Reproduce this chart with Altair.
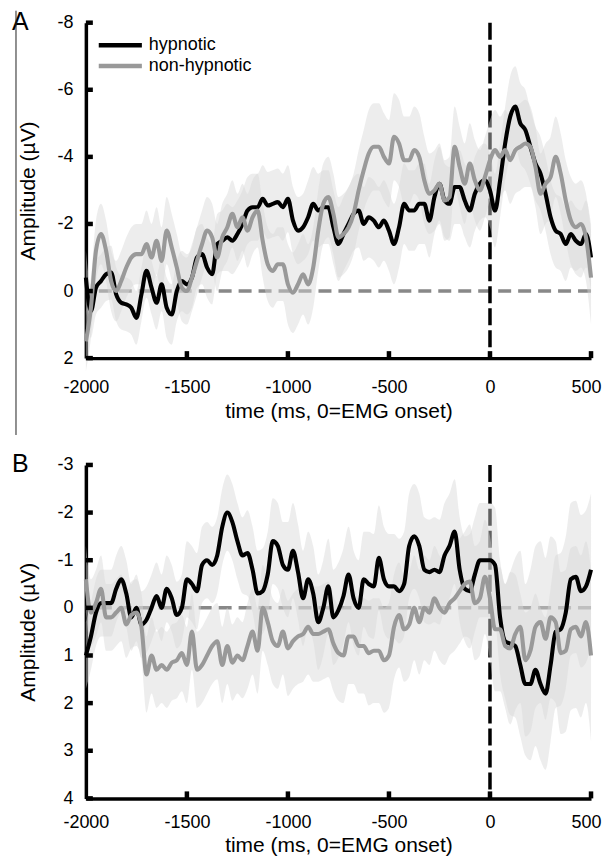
import altair as alt
import pandas as pd

# ---------------- data ----------------
time_ms = list(range(-2000, 501, 25))
x_ticks = [-2000, -1500, -1000, -500, 0, 500]
a_y_ticks = [-8, -6, -4, -2, 0, 2]
b_y_ticks = [-3, -2, -1, 0, 1, 2, 3, 4]
series_names = ["hypnotic", "non-hypnotic"]

a_hyp = [
    -0.4, 0.6, -0.1, -0.3, -0.5, -0.55, 0.1, 0.35, 0.4, 0.5,
    0.8, 0.1, -0.6, -0.1, 0.35, -0.2, 0.5, 0.7, 0.0, -0.3,
    -0.2, -0.4, -1.0, -1.1, -0.7, -0.5, -1.4, -1.5, -1.6, -1.5,
    -1.7, -2.0, -2.4, -2.5, -2.5, -2.75, -2.55, -2.6, -2.65, -2.5,
    -2.75, -2.1, -1.8, -1.9, -2.2, -2.6, -2.4, -2.5, -2.5, -1.9,
    -1.4, -1.7, -2.0, -2.3, -2.4, -2.0, -2.2, -2.1, -1.9, -2.1,
    -1.8, -1.4, -1.9, -2.6, -2.4, -2.4, -2.6, -2.6, -2.1, -2.8,
    -3.2, -2.7, -2.6, -3.1, -3.1, -2.7, -2.4, -2.9, -3.2, -3.3,
    -3.0, -2.4, -3.3, -4.4, -5.2, -5.5, -5.0, -4.8, -4.3, -3.8,
    -3.5, -2.9, -2.2, -1.8, -1.7, -1.4, -1.7, -1.5, -1.4, -1.7,
    -1.0,
]
a_non = [
    1.5, 0.5, -1.2, -1.7, -1.2, -0.3, 0.0, -0.3, -0.7, -1.0,
    -1.1, -1.1, -1.4, -1.0, -1.5, -0.9, -1.8, -1.3, -0.7, -0.1,
    0.0, -0.4, -0.9, -1.4, -1.8, -1.6, -1.0, -1.6, -1.9, -2.3,
    -1.9, -2.2, -1.8, -2.2, -2.4, -1.5, -0.8, -0.6, -0.8, -0.8,
    -0.2, 0.05, -0.2, -0.5, -0.2, -0.7, -1.8, -2.6, -2.8, -2.3,
    -1.6, -1.7, -1.9, -2.3, -3.0, -3.6, -4.1, -4.3, -4.3, -4.0,
    -3.8, -4.6, -4.4, -3.9, -3.9, -4.2, -4.0, -3.3, -2.9, -3.0,
    -3.2, -2.7, -2.8, -4.3, -3.7, -3.2, -3.8, -3.3, -3.0, -3.4,
    -3.9, -4.2, -4.0, -4.2, -3.9, -4.2, -4.3, -4.4, -4.3, -3.7,
    -2.9, -3.2, -3.4, -4.0, -3.5, -2.7, -2.1, -1.9, -2.0, -1.6,
    -0.4,
]
b_hyp = [
    1.0, 0.6, 0.1, -0.1, -0.1, -0.1, -0.4, -0.6, -0.3, 0.2,
    0.0, 0.35, 0.25, 0.0, -0.25, 0.0, -0.4, -0.2, 0.15, 0.0,
    -0.6, -0.5, -0.35, -0.9, -1.0, -0.9, -1.1, -1.7, -2.0, -1.8,
    -1.4, -1.1, -1.15, -0.8, -0.3, -0.35, -0.7, -1.4, -1.3, -0.9,
    -0.8, -1.2, -0.75, -0.2, -0.6, -0.3, 0.3, 0.0, -0.45, 0.2,
    0.05, -0.25, -0.7, -0.2, 0.0, -0.6, -0.5, -0.45, -1.05, -0.6,
    -0.45, -0.45, -0.35, -0.5, -1.3, -1.5, -1.3, -0.8, -0.75, -0.8,
    -0.75, -1.1, -1.3, -1.6, -0.8, -0.4, -0.35, -0.7, -1.0, -1.0,
    -1.0, -0.9, 0.2, 0.7, 0.75, 0.8, 1.2, 1.6, 1.6, 1.3,
    1.6, 1.8, 1.2, 0.5, 0.45, 0.1, -0.6, -0.65, -0.35, -0.45,
    -0.8,
]
b_non = [
    -0.6, 0.1, -0.1, -0.4, 0.2, 0.2, 0.1, 0.0, 0.35, 0.15,
    0.1, 0.4, 1.4, 1.0, 1.3, 1.2, 1.3, 1.15, 1.1, 0.95,
    1.2, 0.5, 1.3, 1.2, 1.0, 0.8, 0.7, 1.2, 0.8, 1.15,
    1.0, 1.1, 0.8, 0.5, 0.9, 0.0, 0.3, 0.7, 0.8, 0.5,
    0.85, 0.7, 0.6, 0.55, 0.4, 0.55, 0.55, 0.5, 0.45, 0.75,
    0.95, 1.0, 0.6, 0.6, 0.8, 0.8, 0.95, 0.9, 0.9, 1.1,
    1.0, 0.4, 0.15, 0.45, 0.35, 0.0, 0.3, 0.0, 0.1, -0.2,
    0.0, 0.1, -0.1, -0.2, -0.35, -0.5, -0.55, -0.1, -0.2, -0.65,
    -0.2, 0.45, 0.45, 0.8, 0.85, 0.55, 0.4, 1.1, 0.9, 0.4,
    0.3, 0.65, 0.2, 0.3, 0.95, 0.9, 0.45, 0.4, 0.6, 0.3,
    1.0,
]
# standard-error half widths, one value per 100 ms segment (-2000 ... 500)
a_hyp_se = [0.8, 0.8, 0.8, 0.8, 0.9, 0.9, 0.9, 1.0, 1.0, 1.0, 1.0, 1.1, 1.1,
            1.1, 1.2, 1.2, 1.2, 1.1, 1.1, 1.1, 1.1, 1.2, 1.1, 1.1, 1.0, 1.0]
a_non_se = [0.9, 0.9, 0.9, 1.0, 1.0, 1.0, 1.0, 1.0, 1.1, 1.1, 1.2, 1.2, 1.2,
            1.2, 1.3, 1.3, 1.3, 1.2, 1.2, 1.2, 1.2, 1.3, 1.2, 1.2, 1.3, 1.4]
b_hyp_se = [0.7, 0.7, 0.7, 0.7, 0.7, 0.8, 0.8, 0.8, 0.9, 0.9, 1.0, 1.0, 1.0,
            1.0, 1.1, 1.1, 1.1, 1.1, 1.1, 1.2, 1.2, 1.5, 1.6, 1.6, 1.6, 1.6]
b_non_se = [0.7, 0.7, 0.7, 0.8, 0.8, 0.8, 0.8, 0.8, 0.9, 0.9, 1.0, 1.0, 1.0,
            1.0, 1.1, 1.1, 1.1, 1.1, 1.1, 1.2, 1.3, 1.6, 1.7, 1.7, 1.7, 1.8]

FONT = "Liberation Sans"
W = 506


def frame(hyp, non, hyp_se, non_se):
    rows = []
    for name, vals, se in ((series_names[0], hyp, hyp_se), (series_names[1], non, non_se)):
        for i, (t, v) in enumerate(zip(time_ms, vals)):
            s = se[i // 4]
            rows.append({"t": t, "v": v, "lo": v - s, "hi": v + s, "series": name})
    return pd.DataFrame(rows)


def panel(df, ydom, yticks, letter, show_legend, h, lab_pad, title_pad):
    xs = alt.Scale(domain=[-2000, 500], nice=False, zero=False)
    ys = alt.Scale(domain=ydom, reverse=True, nice=False, zero=False)
    xa = alt.Axis(values=x_ticks, title="time (ms, 0=EMG onset)", ticks=False, tickSize=0,
                  grid=False, domainColor="black", domainWidth=3.5, labelFlush=False,
                  labelFont=FONT, labelFontSize=18, labelColor="black", labelPadding=lab_pad,
                  labelExpr="'' + datum.value",
                  labelOffset={"condition": {"test": "datum.value == 500", "value": -5},
                               "value": 0},
                  titleFont=FONT, titleFontSize=21, titleFontWeight="normal",
                  titleColor="black", titlePadding=title_pad)
    ya = alt.Axis(values=yticks, title="Amplitude (µV)", ticks=False, tickSize=0,
                  grid=False, domainColor="black", domainWidth=3.5, labelFlush=False,
                  labelFont=FONT, labelFontSize=18, labelColor="black", labelPadding=13,
                  labelExpr="'' + datum.value",
                  titleFont=FONT, titleFontSize=21, titleFontWeight="normal",
                  titleColor="black", titlePadding=18)

    X = lambda f: alt.X(f, scale=xs, axis=xa)
    Y = lambda f: alt.Y(f, scale=ys, axis=ya)

    zero = alt.Chart(pd.DataFrame({"v": [0]})).mark_rule(
        color="#888888", strokeWidth=3.5, strokeDash=[13, 7]
    ).encode(y=Y("v:Q"))
    onset = alt.Chart(pd.DataFrame({"t": [0]})).mark_rule(
        color="black", strokeWidth=3.5, strokeDash=[17, 5]
    ).encode(x=X("t:Q"))
    band = alt.Chart(df).mark_area(
        color="#d6d6d6", opacity=0.45, interpolate="monotone"
    ).encode(x=X("t:Q"), y=Y("lo:Q"), y2="hi:Q", detail="series:N")
    legend = alt.Legend(
        orient="none", legendX=23, legendY=11, title=None,
        symbolType="M-2.4,0H2.4", symbolSize=324, symbolStrokeWidth=4.5,
        labelFont=FONT, labelFontSize=18, labelColor="black", labelOffset=17,
        rowPadding=0, padding=0,
    ) if show_legend else None
    lines = alt.Chart(df).mark_line(strokeWidth=4.1, interpolate="monotone").encode(
        x=X("t:Q"), y=Y("v:Q"),
        color=alt.Color("series:N", scale=alt.Scale(domain=series_names,
                                                   range=["black", "#999999"]),
                        legend=legend),
    )
    yt = alt.Chart(pd.DataFrame({"v": yticks})).mark_rule(
        color="black", strokeWidth=4.5
    ).encode(y=Y("v:Q"), x=alt.value(0), x2=alt.value(7))
    xt = alt.Chart(pd.DataFrame({"t": x_ticks[1:]})).mark_rule(
        color="black", strokeWidth=4.5
    ).encode(x=X("t:Q"), y=alt.value(h), y2=alt.value(h - 7))
    lab = alt.Chart(pd.DataFrame({"s": [letter]})).mark_text(
        font=FONT, fontSize=25, align="left", baseline="top", color="black"
    ).encode(text="s:N", x=alt.value(-74), y=alt.value(-13))
    layers = [zero, onset, band, lines, yt, xt, lab]
    if letter == "A":
        border = alt.Chart(pd.DataFrame({"s": [letter]})).mark_rule(
            color="#222222", strokeWidth=1
        ).encode(x=alt.value(-70), y=alt.value(-12), y2=alt.value(413))
        layers.append(border)
    return alt.layer(*layers).properties(width=W, height=h)


pa = panel(frame(a_hyp, a_non, a_hyp_se, a_non_se), [-8, 2], a_y_ticks, "A", True, 336, 20, 4)
pb = panel(frame(b_hyp, b_non, b_hyp_se, b_non_se), [-3, 4], b_y_ticks, "B", False, 334, 15, 3)

chart = alt.vconcat(pa, pb, spacing=16).resolve_scale(
    color="independent", x="independent", y="independent"
).properties(
    padding={"left": 4, "top": 1, "right": 0, "bottom": 0}
).configure_view(stroke=None)

chart.save("out.html", embed_options={"renderer": "svg", "actions": False})
